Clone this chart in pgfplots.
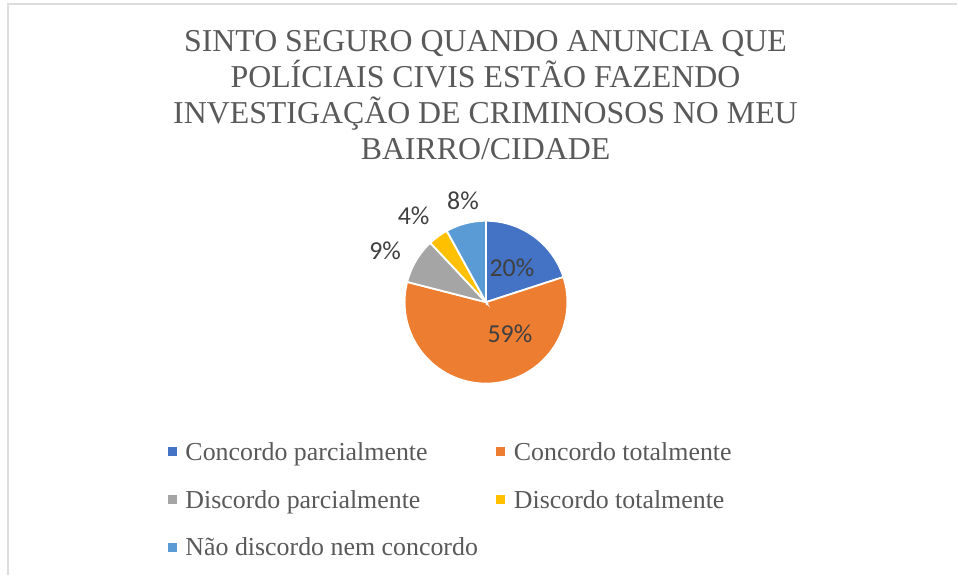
\documentclass[border=0pt]{standalone}
\usepackage{pgfplots}
\pgfplotsset{compat=1.18}
\usepackage{fontspec}
\setmainfont{Liberation Serif}
\newfontfamily\seriffont{Liberation Serif}
\newfontfamily\labelfont{Carlito}
\definecolor{cA}{HTML}{4472C4}
\definecolor{cB}{HTML}{ED7D31}
\definecolor{cC}{HTML}{A5A5A5}
\definecolor{cD}{HTML}{FFC000}
\definecolor{cE}{HTML}{5B9BD5}
\definecolor{titlegray}{HTML}{595959}
\definecolor{labelgray}{HTML}{404040}
\definecolor{framegray}{HTML}{DDDDDD}
\begin{document}
\begin{tikzpicture}[x=1bp,y=1bp]
\path (0,0) rectangle (958,576);
\draw[framegray, line width=2bp] (8.5,0) -- (8.5,571.5) -- (958,571.5);
% title
\begin{scope}[every node/.style={anchor=base, text=titlegray, font=\seriffont\fontsize{32}{36}\selectfont, inner sep=0pt}]
\node at (486,524) {SINTO SEGURO QUANDO ANUNCIA QUE};
\node at (486,488) {POLÍCIAIS CIVIS ESTÃO FAZENDO};
\node at (486,452) {INVESTIGAÇÃO DE CRIMINOSOS NO MEU};
\node at (486,416) {BAIRRO/CIDADE};
\end{scope}
% data (percent)
\def\vA{20}\def\vB{59}\def\vC{9}\def\vD{4}\def\vE{8}
\pgfmathsetmacro\aO{90}
\pgfmathsetmacro\aA{\aO-3.6*\vA}
\pgfmathsetmacro\aB{\aA-3.6*\vB}
\pgfmathsetmacro\aC{\aB-3.6*\vC}
\pgfmathsetmacro\aD{\aC-3.6*\vD}
\pgfmathsetmacro\aE{\aD-3.6*\vE}
\def\R{81.5}
\begin{axis}[
  x=1bp, y=1bp,
  xmin=-100, xmax=100, ymin=-100, ymax=100,
  anchor=origin, at={(486.5,273.5)},
  hide axis, clip=false,
  legend columns=2,
  legend cell align=left,
  legend image code/.code={\path[#1, draw=none] (0bp,-4.5bp) rectangle (9bp,4.5bp);\path[draw=none, fill=none] (0bp,0bp) -- (16bp,0bp);},
  legend style={draw=none, fill=none, at={(axis cs:-319,-138)}, anchor=north west,
    font=\seriffont\fontsize{26}{30}\selectfont, text=titlegray, inner sep=0pt, row sep=24.5bp,
    /tikz/every even column/.append style={column sep=16bp}},
  every axis plot/.append style={draw=white, line width=1.8bp, samples=60, variable=\t},
]
\addplot[fill=cA, domain=\aA:\aO] ({\R*cos(\t)},{\R*sin(\t)}) -- (axis cs:0,0) -- cycle;
\addlegendentry{Concordo parcialmente}
\addplot[fill=cB, domain=\aB:\aA] ({\R*cos(\t)},{\R*sin(\t)}) -- (axis cs:0,0) -- cycle;
\addlegendentry{Concordo totalmente}
\addplot[fill=cC, domain=\aC:\aB] ({\R*cos(\t)},{\R*sin(\t)}) -- (axis cs:0,0) -- cycle;
\addlegendentry{Discordo parcialmente}
\addplot[fill=cD, domain=\aD:\aC] ({\R*cos(\t)},{\R*sin(\t)}) -- (axis cs:0,0) -- cycle;
\addlegendentry{Discordo totalmente}
\addplot[fill=cE, domain=\aE:\aD] ({\R*cos(\t)},{\R*sin(\t)}) -- (axis cs:0,0) -- cycle;
\addlegendentry{Não discordo nem concordo}
\begin{scope}[every node/.style={anchor=base, text=labelgray, font=\labelfont\fontsize{26}{30}\selectfont, inner sep=0pt}]
\node at (axis cs:26,25.5) {20\%};
\node at (axis cs:24,-40.5) {59\%};
\node at (axis cs:-101,42.5) {9\%};
\node at (axis cs:-72.5,77.5) {4\%};
\node at (axis cs:-23,92.5) {8\%};
\end{scope}
\end{axis}
\end{tikzpicture}
\end{document}
